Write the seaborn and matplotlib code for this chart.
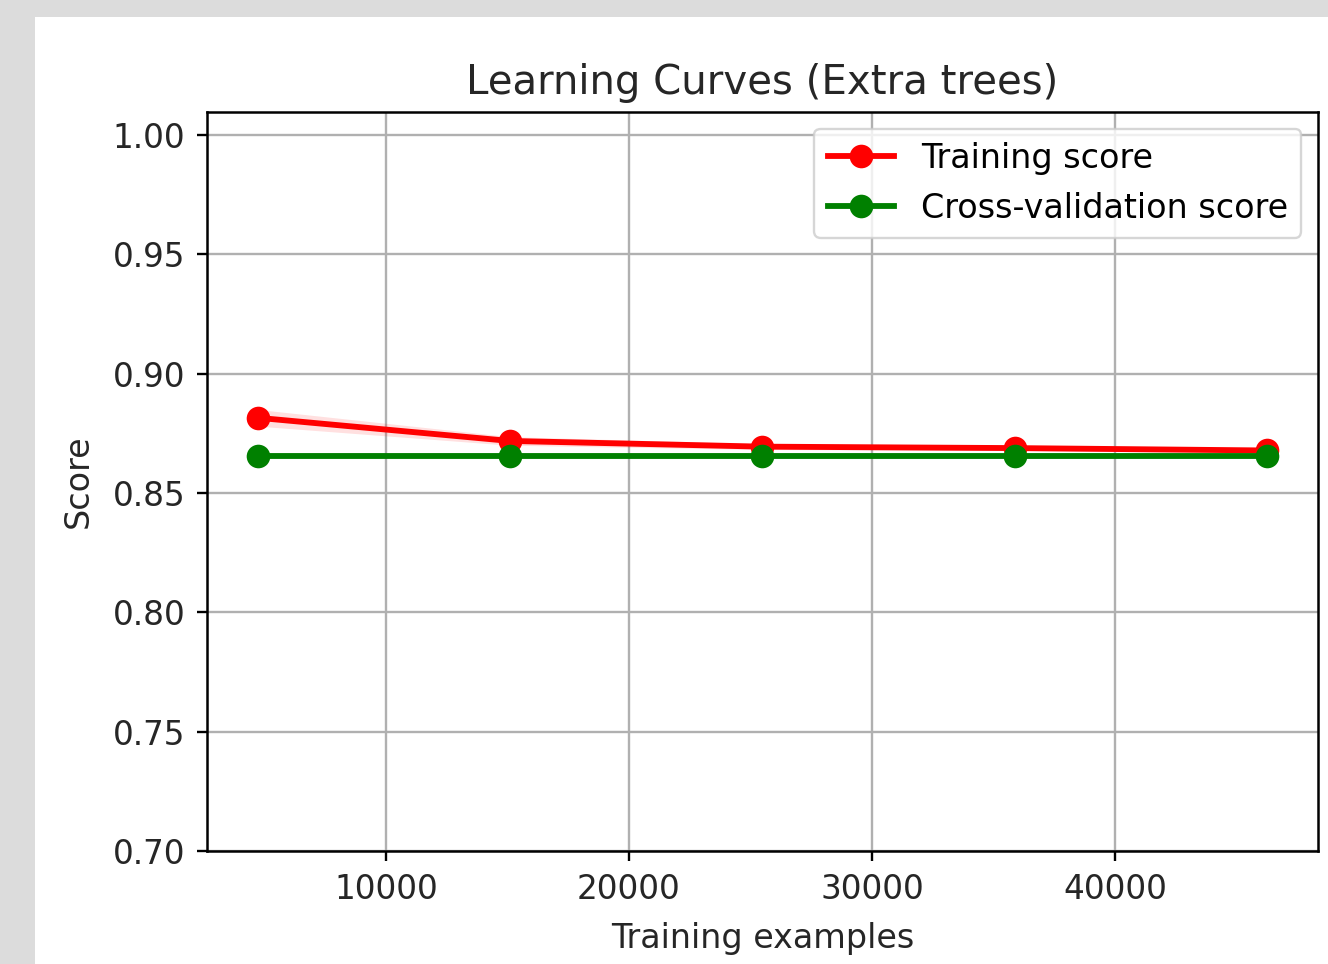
import numpy as np
import pandas as pd
import matplotlib
matplotlib.use("Agg")
import matplotlib.pyplot as plt
import seaborn as sns
from matplotlib.patches import Rectangle

# ---- data ----
train_sizes = [4711, 15083, 25496, 35909, 46281]
train_mean = [0.8815, 0.8718, 0.8694, 0.8688, 0.8678]
train_std = [0.0035, 0.0018, 0.0012, 0.0010, 0.0010]
cv_mean = [0.8656, 0.8656, 0.8656, 0.8656, 0.8656]
cv_std = [0.0012, 0.0012, 0.0012, 0.0012, 0.0012]
y_ticks = [0.70, 0.75, 0.80, 0.85, 0.90, 0.95, 1.00]
x_ticks = [10000, 20000, 30000, 40000]
title = "Learning Curves (Extra trees)"
xlabel = "Training examples"
ylabel = "Score"
labels = ["Training score", "Cross-validation score"]

df = pd.DataFrame({
    "size": train_sizes * 2,
    "score": train_mean + cv_mean,
    "series": [labels[0]] * 5 + [labels[1]] * 5,
})

plt.rcParams['font.family'] = ['DejaVu Sans']

W, H = 1328, 964
fig = plt.figure(figsize=(W / 100, H / 100), dpi=100, facecolor="#dcdcdc")
fig.patches.append(Rectangle((35 / W, 0), 1 - 35 / W, 1 - 17 / H,
                             transform=fig.transFigure, facecolor="white",
                             edgecolor="none", zorder=-10))
ax = fig.add_axes([207 / W, 1 - 851 / H, (1318 - 207) / W, (851 - 112) / H])
ax.set_facecolor("white")

ax.grid(True, color="#b0b0b0", linewidth=1.7, zorder=0)
ax.set_axisbelow(True)

tm, ts = np.array(train_mean), np.array(train_std)
cm, cs = np.array(cv_mean), np.array(cv_std)
ax.fill_between(train_sizes, tm - ts, tm + ts, alpha=0.12, color="r", linewidth=0)
ax.fill_between(train_sizes, cm - cs, cm + cs, alpha=0.12, color="g", linewidth=0)

sns.lineplot(data=df, x="size", y="score", hue="series",
             palette={labels[0]: "r", labels[1]: "g"},
             marker="o", markersize=17, markeredgewidth=0,
             linewidth=4.2, ax=ax, legend=True)

ax.set_xticks(x_ticks)
ax.set_yticks(y_ticks)
ax.set_yticklabels([f"{v:.2f}" for v in y_ticks])
ax.set_ylim(0.70, 1.0096)
ax.tick_params(axis="both", labelsize=23.5, length=7.5, width=1.7,
               pad=8, color="black", labelcolor="#262626")
for s in ax.spines.values():
    s.set_linewidth(1.8)
    s.set_color("black")

ax.set_title(title, fontsize=29, pad=13, color="#262626")
ax.set_xlabel(xlabel, fontsize=24, labelpad=12, color="#262626")
ax.set_ylabel(ylabel, fontsize=24, labelpad=13, color="#262626")

leg = ax.legend(loc="upper right", fontsize=24, frameon=True,
                borderaxespad=0.5)
leg.get_frame().set_edgecolor("#cccccc")
leg.get_frame().set_linewidth(1.7)
for h in leg.legend_handles:
    h.set_markersize(17)
    h.set_linewidth(4.2)

fig.savefig("out.png", dpi=100, facecolor=fig.get_facecolor())
